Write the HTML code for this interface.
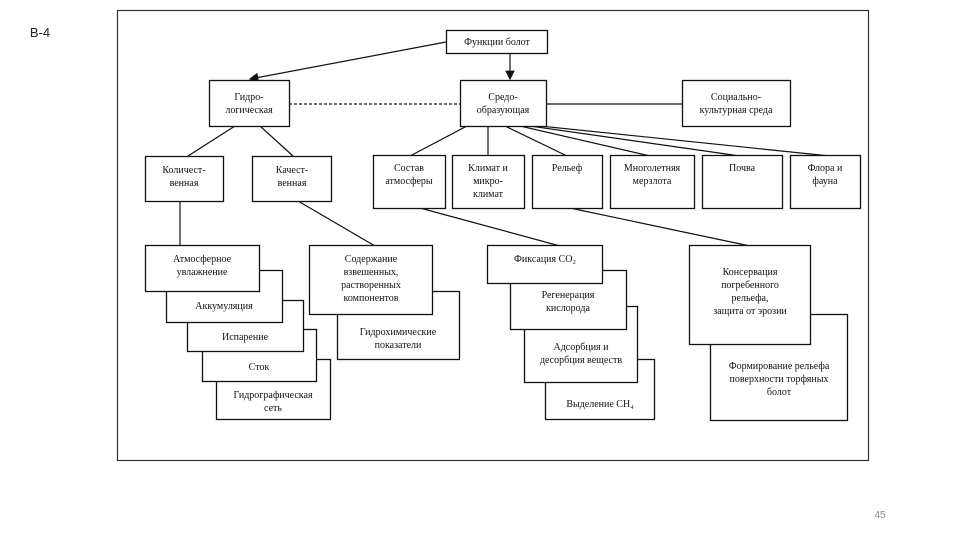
<!DOCTYPE html>
<html><head><meta charset="utf-8"><style>
body{margin:0;background:#fff;width:960px;height:540px;overflow:hidden}
svg{display:block}
text{font-family:"Liberation Serif",serif;font-size:10px;fill:#111;text-anchor:middle}
rect{fill:#fff;stroke:#111;stroke-width:1.3}
line,polyline{stroke:#111;stroke-width:1.2;fill:none}
</style></head><body>
<svg width="960" height="540" viewBox="0 0 960 540">
<text x="40" y="37" style="font-family:'Liberation Sans',sans-serif;font-size:13px;fill:#222">В-4</text>
<text x="880" y="518" style="font-family:'Liberation Sans',sans-serif;font-size:10px;fill:#888">45</text>
<rect x="117.5" y="10.5" width="751" height="450" style="stroke:#333;stroke-width:1.2"/>
<defs><marker id="a" markerWidth="8" markerHeight="8" refX="7" refY="4" orient="auto"><path d="M0,0 L8,4 L0,8 Z" fill="#111"/></marker></defs>
<!-- connectors -->
<line x1="446" y1="42" x2="250" y2="79" marker-end="url(#a)"/>
<line x1="510" y1="53" x2="510" y2="79" marker-end="url(#a)"/>
<line x1="289" y1="104" x2="460" y2="104" style="stroke-dasharray:3,2"/>
<line x1="546" y1="104" x2="682" y2="104"/>
<line x1="235" y1="126" x2="188" y2="156"/>
<line x1="260" y1="126" x2="293" y2="156"/>
<line x1="467" y1="126" x2="410" y2="156"/>
<line x1="488" y1="126" x2="488" y2="156"/>
<line x1="505" y1="126" x2="567" y2="156"/>
<line x1="520" y1="126" x2="650" y2="156"/>
<line x1="530" y1="126" x2="740" y2="156"/>
<line x1="540" y1="126" x2="830" y2="156"/>
<line x1="180" y1="201" x2="180" y2="246"/>
<line x1="298" y1="201" x2="375" y2="246"/>
<line x1="420" y1="208" x2="560" y2="246"/>
<line x1="570" y1="208" x2="750" y2="246"/>
<!-- top boxes -->
<rect x="446.5" y="30.5" width="101" height="23"/><text x="497" y="45">Функции болот</text>
<rect x="209.5" y="80.5" width="80" height="46"/><text x="249" y="100">Гидро-</text><text x="249" y="113">логическая</text>
<rect x="460.5" y="80.5" width="86" height="46"/><text x="503" y="100">Средо-</text><text x="503" y="113">образующая</text>
<rect x="682.5" y="80.5" width="108" height="46"/><text x="736" y="100">Социально-</text><text x="736" y="113">культурная среда</text>
<rect x="145.5" y="156.5" width="78" height="45"/><text x="184" y="173">Количест-</text><text x="184" y="186">венная</text>
<rect x="252.5" y="156.5" width="79" height="45"/><text x="292" y="173">Качест-</text><text x="292" y="186">венная</text>
<rect x="373.5" y="155.5" width="72" height="53"/><text x="409" y="171">Состав</text><text x="409" y="184">атмосферы</text>
<rect x="452.5" y="155.5" width="72" height="53"/><text x="488" y="171">Климат и</text><text x="488" y="184">микро-</text><text x="488" y="197">климат</text>
<rect x="532.5" y="155.5" width="70" height="53"/><text x="567" y="171">Рельеф</text>
<rect x="610.5" y="155.5" width="84" height="53"/><text x="652" y="171">Многолетняя</text><text x="652" y="184">мерзлота</text>
<rect x="702.5" y="155.5" width="80" height="53"/><text x="742" y="171">Почва</text>
<rect x="790.5" y="155.5" width="70" height="53"/><text x="825" y="171">Флора и</text><text x="825" y="184">фауна</text>
<!-- left stack (back to front) -->
<rect x="216.5" y="359.5" width="114" height="60"/><text x="273" y="398">Гидрографическая</text><text x="273" y="411">сеть</text>
<rect x="202.5" y="329.5" width="114" height="52"/><text x="259" y="370">Сток</text>
<rect x="187.5" y="300.5" width="116" height="51"/><text x="245" y="340">Испарение</text>
<rect x="166.5" y="270.5" width="116" height="52"/><text x="224" y="309">Аккумуляция</text>
<rect x="145.5" y="245.5" width="114" height="46"/><text x="202" y="262">Атмосферное</text><text x="202" y="275">увлажнение</text>
<rect x="337.5" y="291.5" width="122" height="68"/><text x="398" y="335">Гидрохимические</text><text x="398" y="348">показатели</text>
<rect x="309.5" y="245.5" width="123" height="69"/><text x="371" y="262">Содержание</text><text x="371" y="275">взвешенных,</text><text x="371" y="288">растворенных</text><text x="371" y="301">компонентов</text>
<!-- middle stack -->
<rect x="545.5" y="359.5" width="109" height="60"/><text x="600" y="407">Выделение CH₄</text>
<rect x="524.5" y="306.5" width="113" height="76"/><text x="581" y="350">Адсорбция и</text><text x="581" y="363">десорбция веществ</text>
<rect x="510.5" y="270.5" width="116" height="59"/><text x="568" y="298">Регенерация</text><text x="568" y="311">кислорода</text>
<rect x="487.5" y="245.5" width="115" height="38"/><text x="545" y="262">Фиксация CO₂</text>
<!-- right stack -->
<rect x="710.5" y="314.5" width="137" height="106"/><text x="779" y="369">Формирование рельефа</text><text x="779" y="382">поверхности торфяных</text><text x="779" y="395">болот</text>
<rect x="689.5" y="245.5" width="121" height="99"/><text x="750" y="275">Консервация</text><text x="750" y="288">погребенного</text><text x="750" y="301">рельефа,</text><text x="750" y="314">защита от эрозии</text>
</svg>
</body></html>
